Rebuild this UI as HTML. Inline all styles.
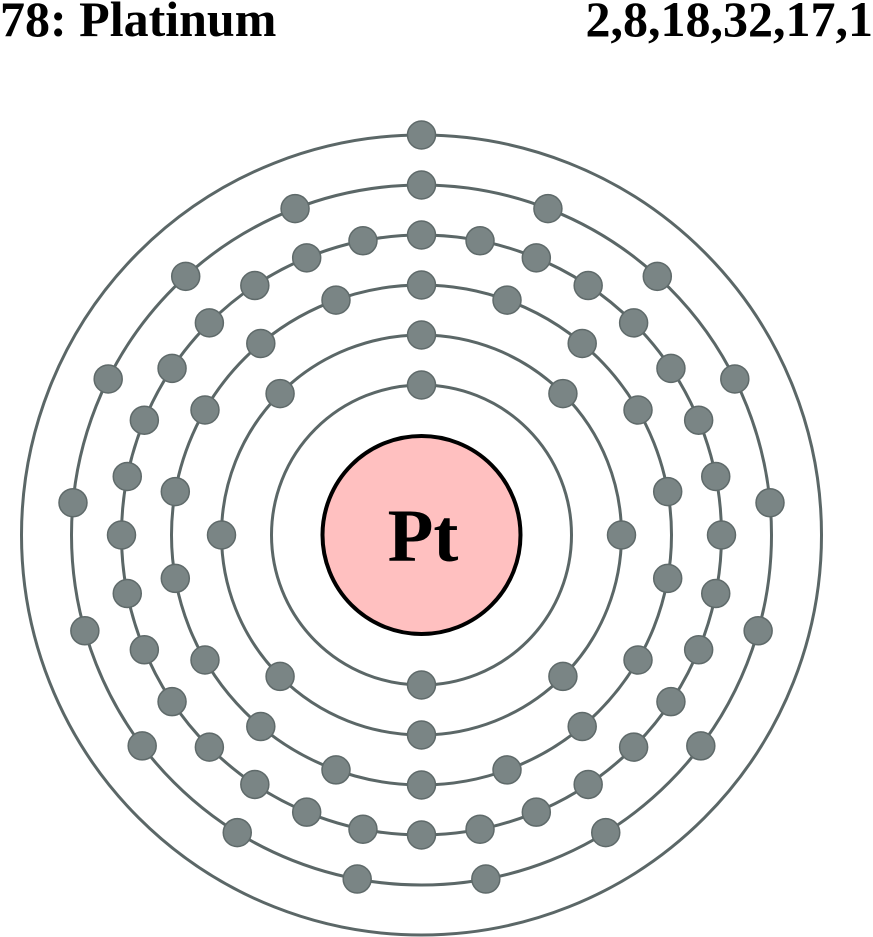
<!DOCTYPE html>
<html><head><meta charset="utf-8"><style>
html,body{margin:0;padding:0;background:#fff;}
svg{display:block;}
</style></head><body>
<svg id="s" width="873" height="937" viewBox="0 0 873 937" xmlns="http://www.w3.org/2000/svg">
<text x="0" y="36" font-family="Liberation Serif, serif" font-weight="bold" font-size="50" fill="#000">78: Platinum</text>
<text x="873" y="36" text-anchor="end" font-family="Liberation Serif, serif" font-weight="bold" font-size="50" fill="#000">2,8,18,32,17,1</text>
<g fill="none" stroke="#5b6767" stroke-width="3">
<circle cx="421.5" cy="535" r="150"/>
<circle cx="421.5" cy="535" r="200"/>
<circle cx="421.5" cy="535" r="250"/>
<circle cx="421.5" cy="535" r="300"/>
<circle cx="421.5" cy="535" r="350"/>
<circle cx="421.5" cy="535" r="400"/>
</g>
<circle cx="421.5" cy="535" r="99" fill="#ffc0c0" stroke="#000" stroke-width="4"/>
<text x="423" y="561" text-anchor="middle" font-family="Liberation Serif, serif" font-weight="bold" font-size="75" fill="#000">Pt</text>
<g id="e" fill="#7a8585" stroke="#5f6a6a" stroke-width="1.5"></g>
</svg>
<script>
var g=document.getElementById('e');var sh=[[150,2],[200,8],[250,18],[300,32],[350,17],[400,1]];
sh.forEach(function(s){for(var i=0;i<s[1];i++){var a=2*Math.PI*i/s[1];var c=document.createElementNS('http://www.w3.org/2000/svg','circle');c.setAttribute('cx',(421.5+s[0]*Math.sin(a)).toFixed(2));c.setAttribute('cy',(535-s[0]*Math.cos(a)).toFixed(2));c.setAttribute('r','14');g.appendChild(c);}});
</script>
</body></html>
